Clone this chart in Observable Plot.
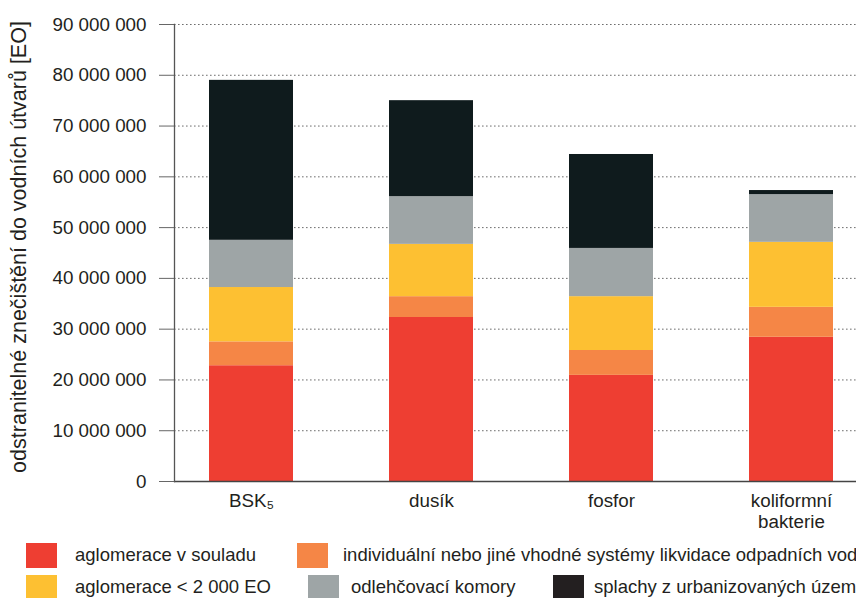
<!DOCTYPE html>
<html>
<head>
<meta charset="utf-8">
<script src="https://cdn.jsdelivr.net/npm/d3@7"></script>
<script src="https://cdn.jsdelivr.net/npm/@observablehq/plot@0.6"></script>
<style>
  html, body { margin: 0; padding: 0; background: #fff; }
  #wrap { position: relative; width: 856px; height: 598px; overflow: hidden; font-family: "Liberation Sans", Arial, sans-serif; color: #231f20; }
  #chart { position: absolute; left: 0; top: 0; }
  .sw { position: absolute; width: 31px; height: 25px; }
  .lt { position: absolute; font-size: 18.5px; line-height: 22px; white-space: nowrap; }
</style>
</head>
<body>
<div id="wrap">
  <div id="chart"></div>
  <div id="legend"></div>
</div>
<script>
// Categories (x) and their display labels
const categories = ["BSK5", "dusík", "fosfor", "koliformní bakterie"];
const xLabels = ["BSK₅", "dusík", "fosfor", "koliformní\nbakterie"];

// Series (stack order bottom → top) and colours
const series = [
  "aglomerace v souladu",
  "individuální nebo jiné vhodné systémy likvidace odpadních vod",
  "aglomerace < 2 000 EO",
  "odlehčovací komory",
  "splachy z urbanizovaných území"
];
const colors = ["#ee3e32", "#f58646", "#fdc032", "#9ea5a6", "#0f1b1d"];

// Values per series, one per category [EO]
const aglomeraceVSouladu = [22.8e6, 32.3e6, 20.9e6, 28.4e6];
const individualni      = [4.7e6, 4.1e6, 4.9e6, 5.9e6];
const aglomeraceMale    = [10.7e6, 10.3e6, 10.6e6, 12.8e6];
const odlehcovaci       = [9.3e6, 9.4e6, 9.5e6, 9.4e6];
const splachy           = [31.5e6, 18.9e6, 18.5e6, 0.8e6];

// Y ticks
const yTicks = [0, 10e6, 20e6, 30e6, 40e6, 50e6, 60e6, 70e6, 80e6, 90e6];
const yLabel = "odstranitelné znečištění do vodních útvarů [EO]";

const seriesValues = [aglomeraceVSouladu, individualni, aglomeraceMale, odlehcovaci, splachy];
const data = [];
categories.forEach((c, ci) => {
  series.forEach((s, si) => data.push({category: c, series: s, value: seriesValues[si][ci]}));
});

const fmt = v => d3.format(",")(v).replace(/,/g, " ");
const labelOf = Object.fromEntries(categories.map((c, i) => [c, xLabels[i]]));

const chart = Plot.plot({
  width: 856,
  height: 535,
  marginTop: 24,
  marginBottom: 54,
  marginLeft: 174,
  marginRight: 0,
  style: {fontFamily: "'Liberation Sans', Arial, sans-serif", fontSize: "18.8px", color: "#231f20", background: "white", overflow: "visible"},
  x: {domain: categories, range: [159.65, 882.35], paddingInner: 0.535, paddingOuter: 0.2675},
  y: {domain: [0, 90e6]},
  color: {domain: series, range: colors},
  marks: [
    Plot.gridY(yTicks, {stroke: "#6e6e6e", strokeOpacity: 1, strokeDasharray: "1.6,2.4"}),
    Plot.barY(data, {x: "category", y: "value", fill: "series"}),
    Plot.ruleY([0], {stroke: "#444", strokeWidth: 1.3}),
    Plot.axisY(yTicks, {tickSize: 15, tickPadding: 13, tickFormat: fmt, stroke: "#666", label: null, fill: "#231f20"}),
    Plot.axisX({tickSize: 0, tickPadding: 11, tickFormat: d => labelOf[d], label: null, lineHeight: 1.1, fill: "#231f20"}),
    Plot.frame({anchor: "left", stroke: "#555", strokeWidth: 1.3}),
    Plot.text([yLabel], {frameAnchor: "left", textAnchor: "middle", rotate: -90, dx: -155, dy: -6, fontSize: 21.5, fill: "#231f20"})
  ]
});
document.getElementById("chart").appendChild(chart);

// Legend
const legendItems = [
  {i: 0, sx: 26, tx: 75, y: 543},
  {i: 1, sx: 297, tx: 343, y: 543},
  {i: 2, sx: 26, tx: 75, y: 575},
  {i: 3, sx: 308, tx: 351, y: 575},
  {i: 4, sx: 553, tx: 594, y: 575}
];
const legend = document.getElementById("legend");
legendItems.forEach(it => {
  const sw = document.createElement("div");
  sw.className = "sw";
  sw.style.left = it.sx + "px";
  sw.style.top = it.y + "px";
  sw.style.background = it.i === 4 ? "#231f20" : colors[it.i];
  legend.appendChild(sw);
  const t = document.createElement("div");
  t.className = "lt";
  t.style.left = it.tx + "px";
  t.style.top = (it.y + 1) + "px";
  t.textContent = series[it.i];
  legend.appendChild(t);
});
</script>
</body>
</html>
